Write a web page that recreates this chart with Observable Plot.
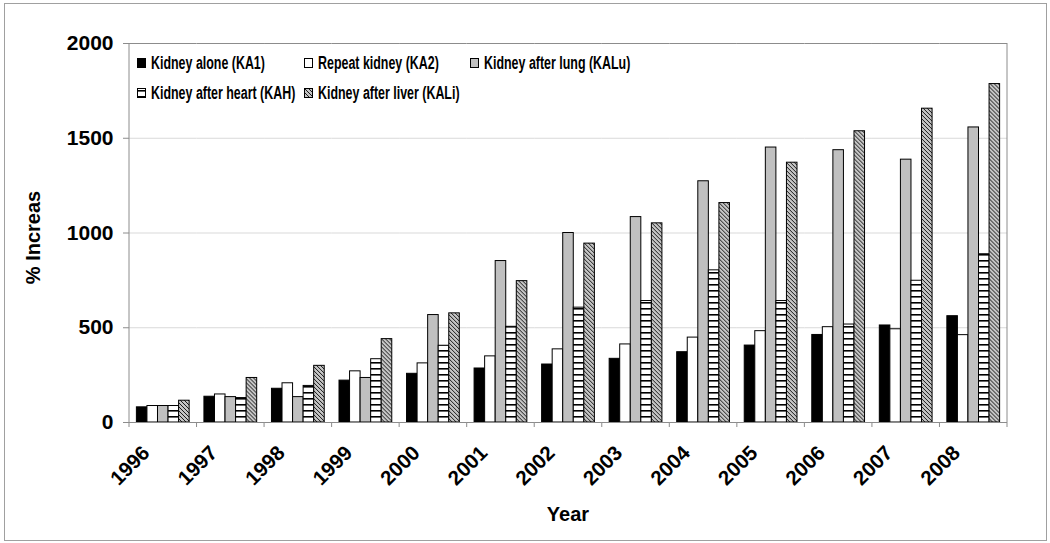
<!DOCTYPE html>
<html>
<head>
<meta charset="utf-8">
<script src="https://cdn.jsdelivr.net/npm/d3@7"></script>
<script src="https://cdn.jsdelivr.net/npm/@observablehq/plot@0.6"></script>
<style>
html, body { margin: 0; padding: 0; background: #fff; }
#wrap { position: relative; width: 1050px; height: 543px; overflow: hidden; font-family: "Liberation Sans", Arial, sans-serif; }
#wrap svg.plot { position: absolute; left: 0; top: 0; display: block; }
#border { position: absolute; left: 4px; top: 3px; width: 1043px; height: 538px; border: 1px solid #a0a0a0; box-sizing: border-box; pointer-events: none; }
.lg { position: absolute; height: 20px; display: flex; align-items: center; white-space: nowrap; }
.lg svg { display: block; }
.lg span { display: inline-block; margin-left: 4px; font-weight: bold; font-size: 17.5px; transform: scaleX(0.71); transform-origin: left center; color: #000; }
</style>
</head>
<body>
<svg width="0" height="0" style="position:absolute">
  <defs>
    <pattern id="hstripe" patternUnits="userSpaceOnUse" width="6" height="6">
      <rect width="6" height="6" fill="#fff"></rect>
      <rect y="2" width="6" height="1.6" fill="#000"></rect>
    </pattern>
    <pattern id="hatch" patternUnits="userSpaceOnUse" width="4" height="4">
      <rect width="4" height="4" fill="#c4c4c4"></rect>
      <path d="M-1,-1L5,5M-1,3L1,5M3,-1L5,1" stroke="#1a1a1a" stroke-width="1"></path>
    </pattern>
  </defs>
</svg>
<div id="wrap">
  <div id="border"></div>
</div>
<script>
// ---- data ----
const years = [1996, 1997, 1998, 1999, 2000, 2001, 2002, 2003, 2004, 2005, 2006, 2007, 2008];
const seriesKeys = ["KA1", "KA2", "KALu", "KAH", "KALi"];
const seriesLabels = ["Kidney alone (KA1)", "Repeat kidney (KA2)", "Kidney after lung (KALu)", "Kidney after heart (KAH)", "Kidney after liver (KALi)"];
const ka1  = [80, 136, 178, 221, 257, 285, 306, 336, 371, 406, 462, 512, 561];
const ka2  = [87, 148, 207, 270, 312, 349, 386, 412, 448, 482, 503, 492, 461];
const kalu = [87, 134, 134, 235, 567, 852, 1000, 1084, 1273, 1451, 1437, 1387, 1557];
const kah  = [87, 129, 193, 334, 405, 505, 606, 641, 803, 641, 517, 748, 888];
const kali = [115, 235, 299, 440, 576, 746, 944, 1051, 1158, 1371, 1537, 1656, 1786];
const yTicks = [0, 500, 1000, 1500, 2000];
const gridTicks = [500, 1000, 1500];
const yLabel = "% Increas";
const xLabel = "Year";

const seriesValues = [ka1, ka2, kalu, kah, kali];
const fills = ["#000000", "#ffffff", "#c0c0c0", "url(#hstripe)", "url(#hatch)"];

const data = [];
years.forEach((yr, i) => {
  seriesKeys.forEach((k, j) => data.push({year: yr, series: k, value: seriesValues[j][i]}));
});

const axisGray = "#8c8c8c";

const plot = Plot.plot({
  width: 1050,
  height: 543,
  marginLeft: 129,
  marginRight: 43,
  marginTop: 43,
  marginBottom: 121,
  style: {fontFamily: '"Liberation Sans", Arial, sans-serif', color: "#000", background: "transparent", overflow: "visible"},
  fx: {domain: years, paddingInner: 0, paddingOuter: 0, round: false, label: null},
  x: {domain: seriesKeys, paddingInner: 0, paddingOuter: 0.7, round: false, axis: null},
  y: {domain: [0, 2000], label: null},
  color: {domain: seriesKeys, range: fills},
  marks: [
    Plot.gridY(gridTicks, {stroke: "#d9d9d9", strokeOpacity: 1}),
    Plot.ruleY([2000], {stroke: axisGray}),
    Plot.barY(data, {fx: "year", x: "series", y: "value", fill: "series", stroke: "#000", strokeWidth: 1}),
    Plot.ruleY([0], {stroke: axisGray}),
    Plot.axisY(yTicks, {tickSize: 6, tickPadding: 10, tickFormat: d3.format("d"), stroke: axisGray, fill: "#000", fontSize: 21, fontWeight: "bold", label: null}),
    Plot.axisFx({anchor: "bottom", tickSize: 0, tickPadding: 0, tickRotate: -45, tickFormat: d => String(d), fontSize: 20.5, fontWeight: "bold", fill: "#000", label: null, dx: -17, dy: 27})
  ]
});
plot.classList.add("plot");
document.getElementById("wrap").prepend(plot);

// frame edges and group boundary ticks, positioned via Plot's scales
const fxS = plot.scale("fx");
const yS = plot.scale("y");
const y0 = yS.apply(0), yTop = yS.apply(2000);
const bounds = years.map(v => fxS.apply(v));
bounds.push(bounds[bounds.length - 1] + fxS.bandwidth);
const svg = d3.select(plot);
const g = svg.append("g").attr("stroke", axisGray).attr("fill", "none");
bounds.forEach(x => g.append("line").attr("x1", x).attr("x2", x).attr("y1", y0).attr("y2", y0 + 5));
g.append("line").attr("x1", bounds[0]).attr("x2", bounds[0]).attr("y1", yTop).attr("y2", y0);
g.append("line").attr("x1", bounds[bounds.length - 1]).attr("x2", bounds[bounds.length - 1]).attr("y1", yTop).attr("y2", y0);

// axis titles
svg.append("text")
  .attr("transform", `translate(33,${(y0 + yTop) / 2 + 5}) rotate(-90)`)
  .attr("text-anchor", "middle").attr("dominant-baseline", "central")
  .attr("font-size", 20).attr("font-weight", "bold").attr("fill", "#000")
  .text(yLabel);
svg.append("text")
  .attr("x", (bounds[0] + bounds[bounds.length - 1]) / 2)
  .attr("y", 521)
  .attr("text-anchor", "middle")
  .attr("font-size", 20).attr("font-weight", "bold").attr("fill", "#000")
  .text(xLabel);

// legend
const legendPos = [
  {left: 137, top: 53}, {left: 304, top: 53}, {left: 470, top: 53},
  {left: 137, top: 83}, {left: 304, top: 83}
];
const wrap = document.getElementById("wrap");
seriesKeys.forEach((k, j) => {
  const d = document.createElement("div");
  d.className = "lg";
  d.style.left = legendPos[j].left + "px";
  d.style.top = legendPos[j].top + "px";
  d.innerHTML = `<svg width="10" height="11"><rect x="0.5" y="0.5" width="8" height="9" fill="${fills[j]}" stroke="#000" stroke-width="1"></rect></svg><span>${seriesLabels[j]}</span>`;
  wrap.appendChild(d);
});
</script>
</body>
</html>
